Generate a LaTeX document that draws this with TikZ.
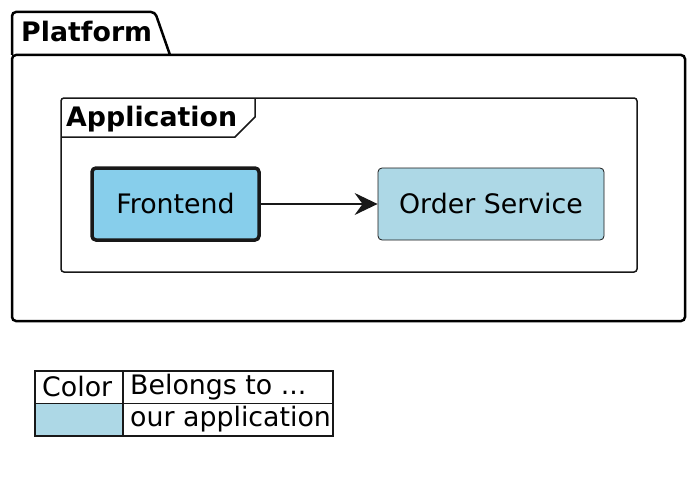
\documentclass[tikz,border=0pt]{standalone}
\usepackage{fontspec}
\setmainfont{DejaVu Sans}
\usepackage[HTML]{xcolor}
\usepackage{tikz}
\usetikzlibrary{positioning, arrows.meta}

\definecolor{lineclr}{HTML}{181818}
\definecolor{skyfill}{HTML}{87CEEB}
\definecolor{lightfill}{HTML}{ADD8E6}

\begin{document}
\begin{tikzpicture}[x=1pt, y=-1pt, font=\fontsize{26.8}{30}\selectfont,
    comp/.style={draw=lineclr, rounded corners=4, minimum height=72, inner sep=0},
    cell/.style={draw=lineclr, line width=1.5, anchor=north west, inner sep=0, minimum height=32.5},
    celltext/.style={inner sep=0}]

\useasboundingbox (0,0) rectangle (696,487);

% --- Platform package ---
\draw[line width=2.5, rounded corners=4] (12,55) |- (155,12) -- (170,55);
\draw[line width=2.5, rounded corners=4] (12,55) rectangle (685,321);
\node[anchor=base west, inner sep=0, font=\fontsize{26.8}{30}\selectfont\bfseries] (platform) at (21,42) {Platform};

% --- Application frame ---
\draw[lineclr, line width=1.5, rounded corners=3] (61,98) rectangle (637,272);
\draw[lineclr, line width=1.5] (61,137) -- (235,137) -- (255,117) -- (255,98);
\node[anchor=base west, inner sep=0, font=\fontsize{26.8}{30}\selectfont\bfseries] (application) at (66,126) {Application};

% --- Components ---
\node[comp, fill=skyfill, line width=3.5, minimum width=167] (frontend) at (175.5,204) {Frontend};
\node[comp, fill=lightfill, line width=0.8, minimum width=226] (orders) at (491,204) {Order Service};

% Connector
\draw[lineclr, line width=1.5, -{Stealth[length=23, width=22, inset=8]}] (frontend) -- (orders);

% --- Legend ---
\node[cell, minimum width=88] (colorhead) at (34,370) {};
\node[cell, minimum width=210] (belongshead) at (122,370) {};
\node[cell, fill=lightfill, minimum width=88] (colorcell) at (34,402.5) {};
\node[cell, minimum width=210] (belongscell) at (122,402.5) {};

\node[celltext, right=8pt of colorhead.west] {Color};
\node[celltext, right=8pt of belongshead.west] {Belongs to ...};
\node[celltext, right=8pt of belongscell.west] {our application};

\end{tikzpicture}
\end{document}
